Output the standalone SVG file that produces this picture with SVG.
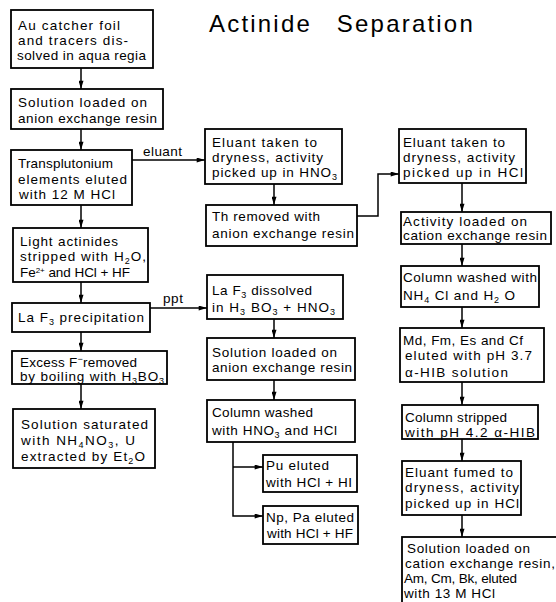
<svg xmlns="http://www.w3.org/2000/svg" width="556" height="602" viewBox="0 0 556 602">
<style>
.bx{fill:#fff;stroke:#000;stroke-width:1.8}
.t{font-family:"Liberation Sans",Arial,sans-serif;font-size:13.5px;fill:#000}
.ttl{font-family:"Liberation Sans",Arial,sans-serif;font-size:24px;fill:#000;letter-spacing:2.2px;word-spacing:16px}
.c{fill:none;stroke:#000;stroke-width:1.5}
.s{font-size:9px}
.p{font-size:8px}
</style>
<defs>
<marker id="ah" viewBox="0 0 10 6" refX="10" refY="3" markerWidth="9" markerHeight="5" markerUnits="userSpaceOnUse" orient="auto"><path d="M0,0 L10,3 L0,6 Z" fill="#000"/></marker>
</defs>
<rect width="556" height="602" fill="#fff"/>
<text class="ttl" x="209" y="32">Actinide Separation</text>

<g id="connectors">
<path class="c" marker-end="url(#ah)" d="M81 68V89"/>
<path class="c" marker-end="url(#ah)" d="M81 129V150"/>
<path class="c" marker-end="url(#ah)" d="M81 205V228"/>
<path class="c" marker-end="url(#ah)" d="M81 282V303"/>
<path class="c" marker-end="url(#ah)" d="M81 332V351"/>
<path class="c" marker-end="url(#ah)" d="M81 384V409"/>
<path class="c" marker-end="url(#ah)" d="M132 160H205"/>
<path class="c" marker-end="url(#ah)" d="M150 308H207"/>
<path class="c" marker-end="url(#ah)" d="M274 184V205"/>
<path class="c" marker-end="url(#ah)" d="M274 319V338"/>
<path class="c" marker-end="url(#ah)" d="M274 380V400"/>
<path class="c" marker-end="url(#ah)" d="M357 216H378V174H399"/>
<path class="c" marker-end="url(#ah)" d="M233 442V516H263"/>
<path class="c" marker-end="url(#ah)" d="M233 467H263"/>
<path class="c" marker-end="url(#ah)" d="M462 183V212"/>
<path class="c" marker-end="url(#ah)" d="M462 244V266"/>
<path class="c" marker-end="url(#ah)" d="M462 307V328"/>
<path class="c" marker-end="url(#ah)" d="M462 382V405"/>
<path class="c" marker-end="url(#ah)" d="M462 439V461"/>
<path class="c" marker-end="url(#ah)" d="M462 515V537"/>
<text class="t" x="143" y="156" textLength="39" lengthAdjust="spacing">eluant</text>
<text class="t" x="163" y="303" textLength="20" lengthAdjust="spacing">ppt</text>
</g>

<g id="b1"><rect class="bx" x="11" y="10" width="142" height="58"/>
<text class="t" x="18" y="30" textLength="102" lengthAdjust="spacing">Au catcher foil</text>
<text class="t" x="18" y="45" textLength="110" lengthAdjust="spacing">and tracers dis-</text>
<text class="t" x="17" y="60" textLength="129" lengthAdjust="spacing">solved in aqua regia</text></g>

<g id="b2"><rect class="bx" x="11" y="89" width="152" height="40"/>
<text class="t" x="18" y="107" textLength="129" lengthAdjust="spacing">Solution loaded on</text>
<text class="t" x="18" y="123" textLength="139" lengthAdjust="spacing">anion exchange resin</text></g>

<g id="b3"><rect class="bx" x="11" y="150" width="121" height="55"/>
<text class="t" x="18" y="168" textLength="95" lengthAdjust="spacing">Transplutonium</text>
<text class="t" x="18" y="184" textLength="109" lengthAdjust="spacing">elements eluted</text>
<text class="t" x="19" y="199" textLength="96" lengthAdjust="spacing">with 12 M HCl</text></g>

<g id="b4"><rect class="bx" x="13" y="228" width="135" height="54"/>
<text class="t" x="20" y="246" textLength="98" lengthAdjust="spacing">Light actinides</text>
<text class="t" x="20" y="261" textLength="126" lengthAdjust="spacing">stripped with H<tspan class="s" dy="2.5">2</tspan><tspan dy="-2.5">O,</tspan></text>
<text class="t" x="20" y="277" textLength="110" lengthAdjust="spacing">Fe<tspan class="p" dy="-4">2+</tspan><tspan dy="4"> and HCl + HF</tspan></text></g>

<g id="b5"><rect class="bx" x="12" y="303" width="138" height="29"/>
<text class="t" x="18" y="322" textLength="126" lengthAdjust="spacing">La F<tspan class="s" dy="3">3</tspan><tspan dy="-3"> precipitation</tspan></text></g>

<g id="b6"><rect class="bx" x="12" y="351" width="155" height="33"/>
<text class="t" x="20" y="367" textLength="117" lengthAdjust="spacing">Excess F<tspan class="s" dy="-5">−</tspan><tspan dy="5">removed</tspan></text>
<text class="t" x="20" y="381" textLength="144" lengthAdjust="spacing">by boiling with H<tspan class="s" dy="3">3</tspan><tspan dy="-3">BO</tspan><tspan class="s" dy="3">3</tspan></text></g>

<g id="b7"><rect class="bx" x="13" y="409" width="142" height="59"/>
<text class="t" x="21" y="429" textLength="127" lengthAdjust="spacing">Solution saturated</text>
<text class="t" x="21" y="445" textLength="114" lengthAdjust="spacing">with NH<tspan class="s" dy="3">4</tspan><tspan dy="-3">NO</tspan><tspan class="s" dy="3">3</tspan><tspan dy="-3">,  U</tspan></text>
<text class="t" x="21" y="461" textLength="124" lengthAdjust="spacing">extracted by Et<tspan class="s" dy="3">2</tspan><tspan dy="-3">O</tspan></text></g>

<g id="m1"><rect class="bx" x="205" y="129" width="137" height="55"/>
<text class="t" x="212" y="147" textLength="105" lengthAdjust="spacing">Eluant taken to</text>
<text class="t" x="212" y="162" textLength="111" lengthAdjust="spacing">dryness, activity</text>
<text class="t" x="212" y="177" textLength="125" lengthAdjust="spacing">picked up in HNO<tspan class="s" dy="3">3</tspan></text></g>

<g id="m2"><rect class="bx" x="206" y="205" width="151" height="41"/>
<text class="t" x="212" y="221" textLength="108" lengthAdjust="spacing">Th removed with</text>
<text class="t" x="212" y="238" textLength="142" lengthAdjust="spacing">anion exchange resin</text></g>

<g id="m3"><rect class="bx" x="207" y="275" width="136" height="44"/>
<text class="t" x="212" y="295" textLength="100" lengthAdjust="spacing">La F<tspan class="s" dy="3">3</tspan><tspan dy="-3"> dissolved</tspan></text>
<text class="t" x="212" y="312" textLength="123" lengthAdjust="spacing">in   H<tspan class="s" dy="3">3</tspan><tspan dy="-3"> BO</tspan><tspan class="s" dy="3">3</tspan><tspan dy="-3"> + HNO</tspan><tspan class="s" dy="3">3</tspan></text></g>

<g id="m4"><rect class="bx" x="207" y="338" width="148" height="42"/>
<text class="t" x="212" y="357" textLength="125" lengthAdjust="spacing">Solution loaded on</text>
<text class="t" x="212" y="372" textLength="140" lengthAdjust="spacing">anion exchange resin</text></g>

<g id="m5"><rect class="bx" x="207" y="400" width="148" height="42"/>
<text class="t" x="212" y="417" textLength="101" lengthAdjust="spacing">Column washed</text>
<text class="t" x="212" y="435" textLength="125" lengthAdjust="spacing">with HNO<tspan class="s" dy="3">3</tspan><tspan dy="-3"> and HCl</tspan></text></g>

<g id="m6"><rect class="bx" x="263" y="455" width="94" height="37"/>
<text class="t" x="266" y="470" textLength="63" lengthAdjust="spacing">Pu eluted</text>
<text class="t" x="266" y="487" textLength="86" lengthAdjust="spacing">with HCl + HI</text></g>

<g id="m7"><rect class="bx" x="263" y="506" width="95" height="38"/>
<text class="t" x="266" y="522" textLength="88" lengthAdjust="spacing">Np, Pa eluted</text>
<text class="t" x="267" y="538" textLength="86" lengthAdjust="spacing">with HCl + HF</text></g>

<g id="r1"><rect class="bx" x="399" y="129" width="127" height="54"/>
<text class="t" x="403" y="147" textLength="102" lengthAdjust="spacing">Eluant taken to</text>
<text class="t" x="403" y="162" textLength="112" lengthAdjust="spacing">dryness, activity</text>
<text class="t" x="403" y="177" textLength="120" lengthAdjust="spacing">picked up in HCl</text></g>

<g id="r2"><rect class="bx" x="401" y="212" width="150" height="32"/>
<text class="t" x="403" y="226" textLength="124" lengthAdjust="spacing">Activity loaded on</text>
<text class="t" x="403" y="240" textLength="144" lengthAdjust="spacing">cation exchange resin</text></g>

<g id="r3"><rect class="bx" x="401" y="266" width="138" height="41"/>
<text class="t" x="403" y="282" textLength="134" lengthAdjust="spacing">Column washed with</text>
<text class="t" x="403" y="300" textLength="112" lengthAdjust="spacing">NH<tspan class="s" dy="3">4</tspan><tspan dy="-3"> Cl and H</tspan><tspan class="s" dy="3">2</tspan><tspan dy="-3"> O</tspan></text></g>

<g id="r4"><rect class="bx" x="400" y="328" width="144" height="54"/>
<text class="t" x="403" y="345" textLength="120" lengthAdjust="spacing">Md, Fm, Es and Cf</text>
<text class="t" x="405" y="360" textLength="127" lengthAdjust="spacing">eluted with pH 3.7</text>
<text class="t" x="405" y="377" textLength="103" lengthAdjust="spacing">α-HIB solution</text></g>

<g id="r5"><rect class="bx" x="402" y="405" width="136" height="34"/>
<text class="t" x="405" y="422" textLength="102" lengthAdjust="spacing">Column stripped</text>
<text class="t" x="405" y="437" textLength="130" lengthAdjust="spacing">with pH 4.2 α-HIB</text></g>

<g id="r6"><rect class="bx" x="402" y="461" width="119" height="54"/>
<text class="t" x="405" y="477" textLength="108" lengthAdjust="spacing">Eluant fumed to</text>
<text class="t" x="405" y="492" textLength="114" lengthAdjust="spacing">dryness, activity</text>
<text class="t" x="405" y="508" textLength="114" lengthAdjust="spacing">picked up in HCl</text></g>

<g id="r7"><rect class="bx" x="402" y="537" width="170" height="80"/>
<text class="t" x="407" y="553" textLength="123" lengthAdjust="spacing">Solution loaded on</text>
<text class="t" x="405" y="568" textLength="150" lengthAdjust="spacing">cation exchange resin,</text>
<text class="t" x="404" y="583" textLength="113" lengthAdjust="spacing">Am, Cm, Bk, eluted</text>
<text class="t" x="404" y="598" textLength="91" lengthAdjust="spacing">with 13 M HCl</text></g>
</svg>
